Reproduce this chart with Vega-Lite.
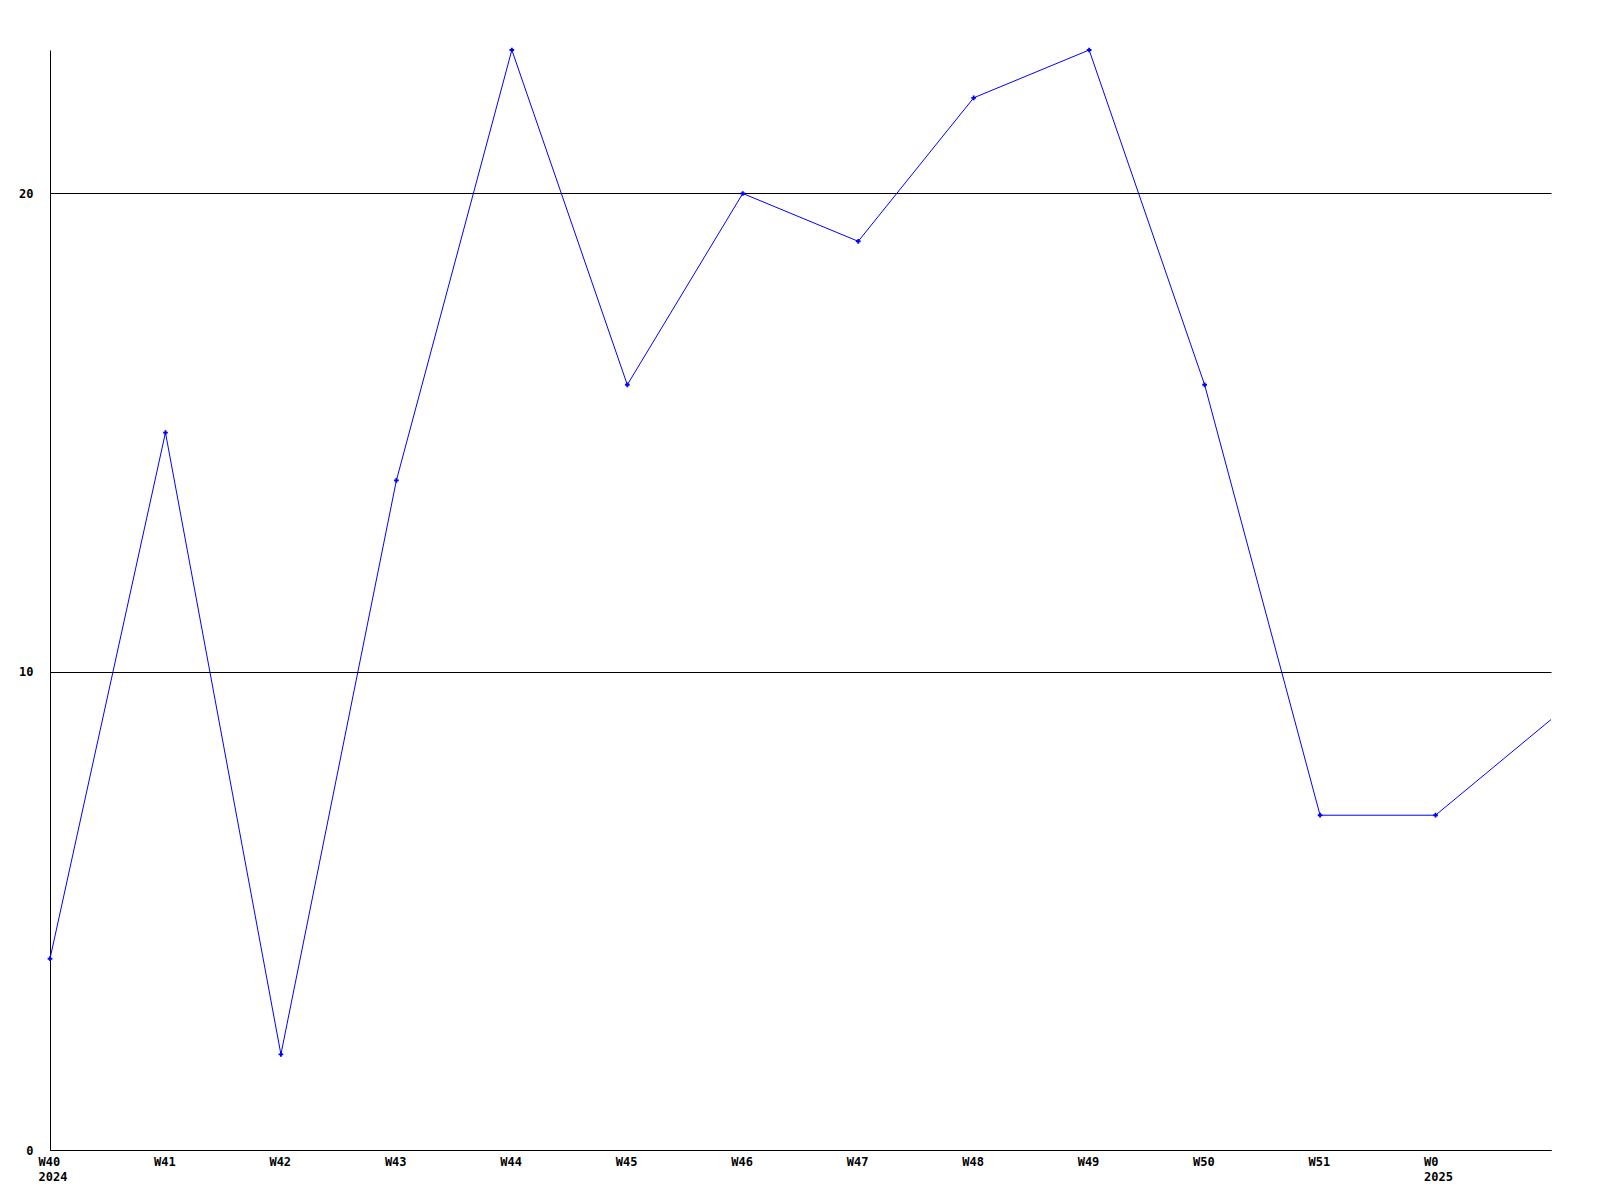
{
  "$schema": "https://vega.github.io/schema/vega-lite/v6.json",
  "autosize": "none",
  "padding": {"left": 50, "top": 50, "right": 49, "bottom": 50},
  "width": 1501,
  "height": 1100,
  "background": "white",
  "config": {
    "view": {"stroke": null},
    "axis": {"labelFont": "DejaVu Sans Mono", "labelFontWeight": "bold", "labelFontSize": 12, "labelColor": "black", "domainColor": "black", "domainWidth": 1, "ticks": false, "title": null}
  },
  "data": {
    "values": [
      {"week": "W40|2024", "value": 4},
      {"week": "W41", "value": 15},
      {"week": "W42", "value": 2},
      {"week": "W43", "value": 14},
      {"week": "W44", "value": 23},
      {"week": "W45", "value": 16},
      {"week": "W46", "value": 20},
      {"week": "W47", "value": 19},
      {"week": "W48", "value": 22},
      {"week": "W49", "value": 23},
      {"week": "W50", "value": 16},
      {"week": "W51", "value": 7},
      {"week": "W0|2025", "value": 7},
      {"week": "W1", "value": 9}
    ]
  },
  "encoding": {
    "x": {
      "field": "week", "type": "ordinal", "sort": null,
      "scale": {"type": "point", "padding": 0},
      "axis": {
        "values": ["W40|2024","W41","W42","W43","W44","W45","W46","W47","W48","W49","W50","W51","W0|2025"],
        "labelExpr": "split(datum.value, '|')",
        "labelAngle": 0, "labelAlign": "left", "labelOffset": -12, "labelPadding": 6,
        "labelLineHeight": 15, "grid": false, "labelOverlap": false
      }
    },
    "y": {
      "field": "value", "type": "quantitative",
      "scale": {"domain": [0, 23], "nice": false, "zero": true},
      "axis": {"values": [0, 10, 20], "grid": true, "gridColor": "black", "gridWidth": 1, "gridOpacity": 1, "labelPadding": 17, "labelBaseline": "middle"}
    }
  },
  "layer": [
    {"mark": {"type": "line", "color": "#0000ff", "strokeWidth": 1}},
    {
      "transform": [{"filter": "datum.week != 'W1'"}],
      "mark": {"type": "point", "shape": "cross", "filled": true, "color": "#0000ff", "size": 22, "opacity": 1}
    }
  ]
}
